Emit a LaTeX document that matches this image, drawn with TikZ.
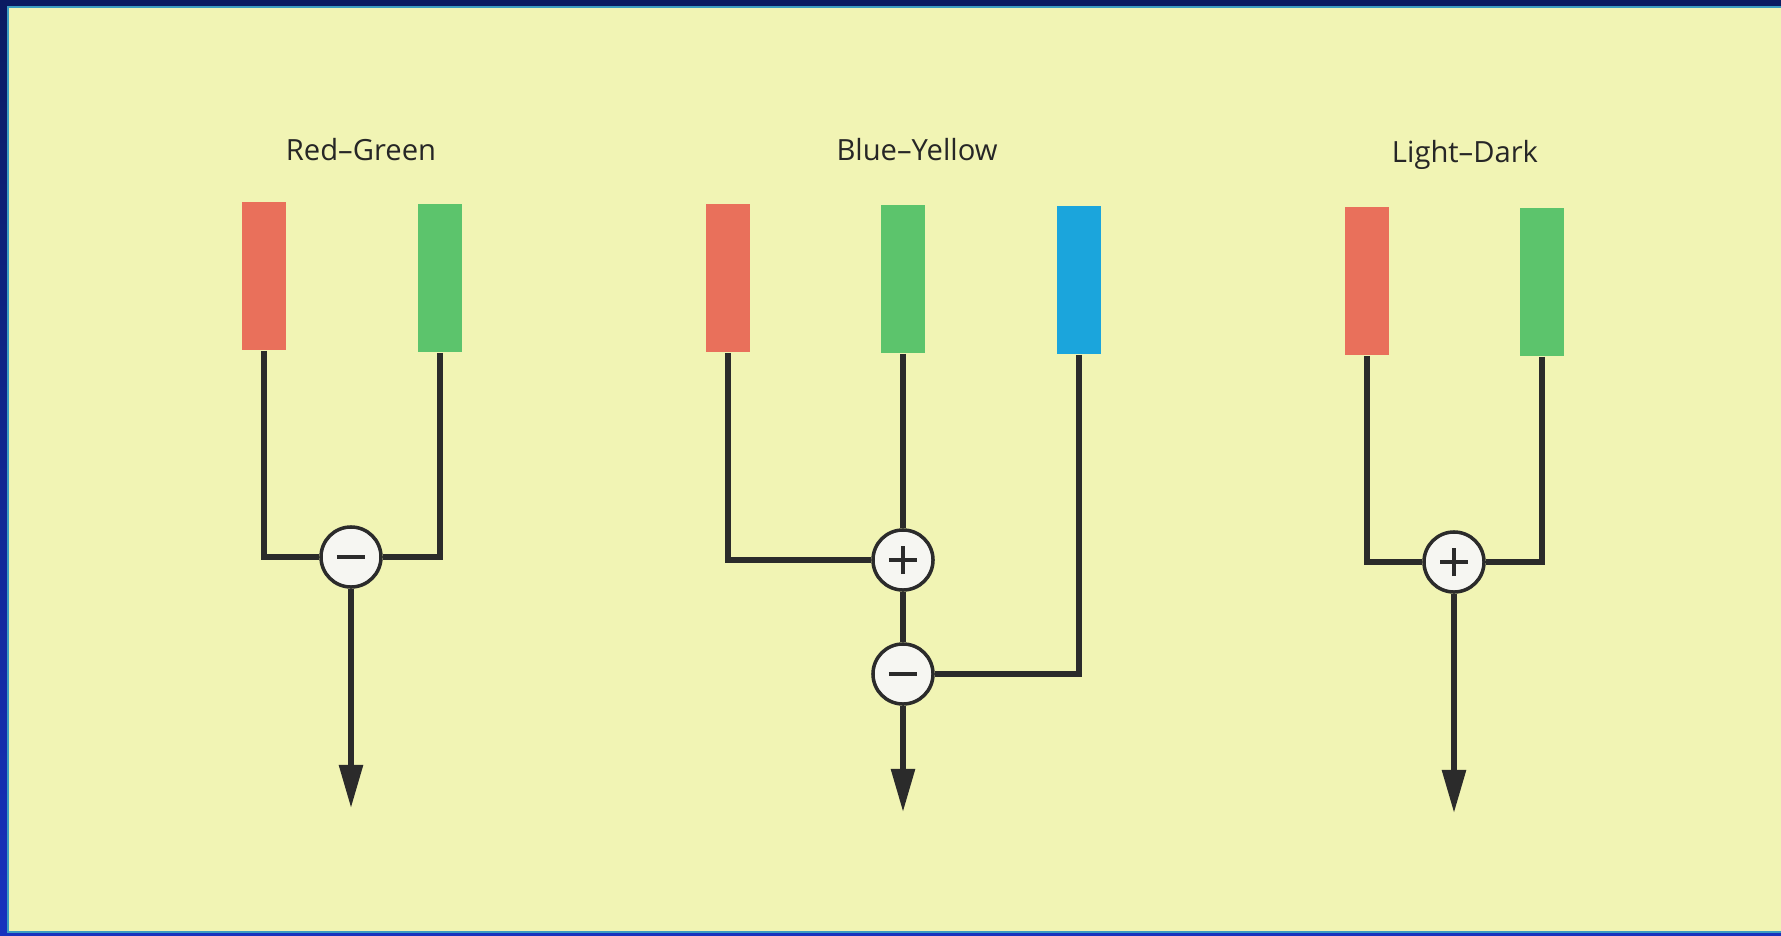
\documentclass[tikz,border=0pt]{standalone}
\usepackage{fontspec}
\setsansfont{Open Sans}
\usetikzlibrary{arrows.meta}

\definecolor{paper}{HTML}{F1F4B4}
\definecolor{rim}{HTML}{3C9DC2}
\definecolor{navytop}{HTML}{0A1B62}
\definecolor{navybot}{HTML}{1732BE}
\definecolor{conered}{HTML}{E9705B}
\definecolor{conegreen}{HTML}{5CC46C}
\definecolor{coneblue}{HTML}{1BA5DC}
\definecolor{wire}{HTML}{2B2B2B}
\definecolor{opfill}{HTML}{F6F6F2}

\begin{document}
\begin{tikzpicture}[
  x=0.01cm, y=-0.01cm,
  bar/.style={rectangle, inner sep=0pt, minimum width=0.44cm, minimum height=1.48cm},
  lbl/.style={anchor=base, font=\sffamily\fontsize{8.3}{10}\selectfont, text=black!85},
  link/.style={draw=wire, line width=1.6pt},
  signal/.style={link, -{Triangle[length=0.43cm, width=0.23cm]}},
  op/.style={circle, draw=wire, line width=1pt, fill=opfill, minimum size=0.6cm, inner sep=0pt},
  minus/.style={op, path picture={
    \draw[wire, line width=1.2pt]
      ([xshift=-0.14cm]path picture bounding box.center) -- ([xshift=0.14cm]path picture bounding box.center);}},
  plus/.style={op, path picture={
    \draw[wire, line width=1.2pt]
      ([xshift=-0.14cm]path picture bounding box.center) -- ([xshift=0.14cm]path picture bounding box.center)
      ([yshift=-0.14cm]path picture bounding box.center) -- ([yshift=0.14cm]path picture bounding box.center);}}
]
  \useasboundingbox (0,0) rectangle (1781,936);

  % page
  \shade[top color=navytop, bottom color=navybot] (0,0) rectangle (1781,936);
  \fill[paper] (8,7) rectangle (1781,932);
  \draw[rim, line width=0.8pt] (1781,7) -- (8,7) -- (8,932) -- (1781,932);

  % red-green
  \node[lbl] (rg-lbl) at (361,160) {Red--Green};
  \node[bar, fill=conered] (rg-r) at (264,276) {};
  \node[bar, fill=conegreen] (rg-g) at (440,278) {};
  \node[minus] (rg-op) at (351,557) {};
  \coordinate (rg-out) at (351,808);
  \draw[link] (rg-r.south) |- (rg-op.west);
  \draw[link] (rg-g.south) |- (rg-op.east);
  \draw[signal] (rg-op.south) -- (rg-out);

  % blue-yellow
  \node[lbl] (by-lbl) at (917,160) {Blue--Yellow};
  \node[bar, fill=conered] (by-r) at (728,278) {};
  \node[bar, fill=conegreen] (by-g) at (903,279) {};
  \node[bar, fill=coneblue] (by-b) at (1079,280) {};
  \node[plus] (by-add) at (903,560) {};
  \node[minus] (by-sub) at (903,674) {};
  \coordinate (by-out) at (903,812);
  \draw[link] (by-r.south) |- (by-add.west);
  \draw[link] (by-g.south) -- (by-add.north);
  \draw[link] (by-add.south) -- (by-sub.north);
  \draw[link] (by-b.south) |- (by-sub.east);
  \draw[signal] (by-sub.south) -- (by-out);

  % light-dark
  \node[lbl] (ld-lbl) at (1465,162) {Light--Dark};
  \node[bar, fill=conered] (ld-r) at (1367,281) {};
  \node[bar, fill=conegreen] (ld-g) at (1542,282) {};
  \node[plus] (ld-op) at (1454,562) {};
  \coordinate (ld-out) at (1454,813);
  \draw[link] (ld-r.south) |- (ld-op.west);
  \draw[link] (ld-g.south) |- (ld-op.east);
  \draw[signal] (ld-op.south) -- (ld-out);
\end{tikzpicture}
\end{document}
